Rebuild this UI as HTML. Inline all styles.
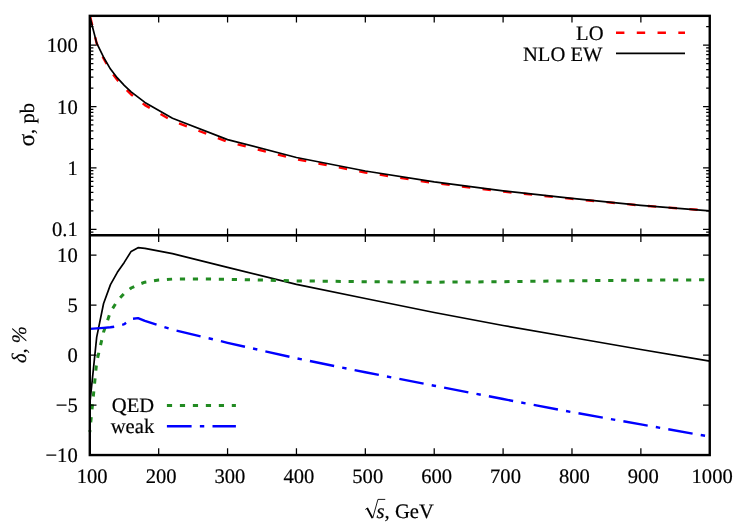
<!DOCTYPE html>
<html><head><meta charset="utf-8"><title>plot</title>
<style>html,body{margin:0;padding:0;background:#fff;}svg{display:block;}text{font-family:"Liberation Serif",serif;font-size:20.6px;fill:#000;stroke:#000;stroke-width:0.2px;text-rendering:geometricPrecision;}</style>
</head><body>
<svg width="747" height="523" viewBox="0 0 747 523">
<rect width="747" height="523" fill="#fff"/>
<defs><clipPath id="c1"><rect x="88.80" y="15.85" width="621.95" height="219.35"/></clipPath>
<clipPath id="c2"><rect x="88.20" y="235.20" width="623.15" height="219.85"/></clipPath></defs>
<g clip-path="url(#c1)" fill="none" stroke-linejoin="round">
<path d="M89.80,15.17 L96.69,43.58 L103.58,58.54 L110.47,70.92 L117.35,80.02 L124.24,87.66 L131.13,94.43 L138.02,99.82 L144.91,105.11 L172.46,120.88 L227.57,141.84 L296.45,159.32 L365.33,172.47 L434.22,183.01 L503.10,191.58 L571.98,198.87 L640.87,205.45 L709.75,210.74" stroke="#ff0000" stroke-width="2.4" stroke-dasharray="8.4 12.37" stroke-dashoffset="18.75"/>
<path d="M89.80,16.50 L96.69,43.10 L103.58,57.20 L110.47,69.10 L117.35,77.90 L124.24,85.30 L131.13,91.80 L138.02,97.10 L144.91,102.40 L172.46,118.30 L227.57,139.60 L296.45,157.50 L365.33,171.00 L434.22,181.90 L503.10,190.80 L571.98,198.40 L640.87,205.30 L709.75,210.90" stroke="#000" stroke-width="1.7"/>
</g>
<g clip-path="url(#c2)" fill="none" stroke-linejoin="round">
<path d="M89.80,403.90 L96.69,337.10 L103.58,303.50 L110.47,284.60 L117.35,272.30 L124.24,262.40 L131.13,251.40 L138.02,247.70 L144.91,248.30 L172.46,253.60 L227.57,267.40 L296.45,284.40 L365.33,298.50 L434.22,312.50 L503.10,325.50 L571.98,337.50 L640.87,349.50 L709.75,361.20" stroke="#000" stroke-width="1.7"/>
<path d="M89.80,432.00 L96.69,362.00 L103.58,332.00 L110.47,311.90 L117.35,300.90 L124.24,293.40 L131.13,288.00 L138.02,284.80 L144.91,282.20 L158.68,280.00 L172.46,279.10 L200.01,279.00 L227.57,279.30 L296.45,280.90 L365.33,281.70 L434.22,282.20 L503.10,281.70 L571.98,280.80 L640.87,280.20 L709.75,279.80" stroke="#228b22" stroke-width="3.0" stroke-dasharray="5.2 7.78" stroke-dashoffset="3.26"/>
<path d="M89.80,328.90 L96.69,328.40 L103.58,327.90 L110.47,327.30 L117.35,326.20 L124.24,324.20 L131.13,319.00 L138.02,318.10 L144.91,320.90 L172.46,329.60 L227.57,342.80 L296.45,358.30 L365.33,372.30 L434.22,385.70 L503.10,399.05 L571.98,412.15 L640.87,424.40 L709.75,436.60" stroke="#0000ff" stroke-width="2.4" stroke-dasharray="24.7 8.25 4.4 8.25" stroke-dashoffset="0.2"/>
</g>
<g stroke="#000" stroke-width="1.25" fill="none">
<path d="M158.68,15.85 v6.70 M158.68,228.50 v13.40 M158.68,455.05 v-6.70"/>
<path d="M227.57,15.85 v6.70 M227.57,228.50 v13.40 M227.57,455.05 v-6.70"/>
<path d="M296.45,15.85 v6.70 M296.45,228.50 v13.40 M296.45,455.05 v-6.70"/>
<path d="M365.33,15.85 v6.70 M365.33,228.50 v13.40 M365.33,455.05 v-6.70"/>
<path d="M434.22,15.85 v6.70 M434.22,228.50 v13.40 M434.22,455.05 v-6.70"/>
<path d="M503.10,15.85 v6.70 M503.10,228.50 v13.40 M503.10,455.05 v-6.70"/>
<path d="M571.98,15.85 v6.70 M571.98,228.50 v13.40 M571.98,455.05 v-6.70"/>
<path d="M640.87,15.85 v6.70 M640.87,228.50 v13.40 M640.87,455.05 v-6.70"/>
<path d="M89.80,232.06 h3.60 M709.75,232.06 h-3.60"/>
<path d="M89.80,229.25 h6.70 M709.75,229.25 h-6.70"/>
<path d="M89.80,210.78 h3.60 M709.75,210.78 h-3.60"/>
<path d="M89.80,199.97 h3.60 M709.75,199.97 h-3.60"/>
<path d="M89.80,192.30 h3.60 M709.75,192.30 h-3.60"/>
<path d="M89.80,186.35 h3.60 M709.75,186.35 h-3.60"/>
<path d="M89.80,181.49 h3.60 M709.75,181.49 h-3.60"/>
<path d="M89.80,177.39 h3.60 M709.75,177.39 h-3.60"/>
<path d="M89.80,173.83 h3.60 M709.75,173.83 h-3.60"/>
<path d="M89.80,170.69 h3.60 M709.75,170.69 h-3.60"/>
<path d="M89.80,167.88 h6.70 M709.75,167.88 h-6.70"/>
<path d="M89.80,149.40 h3.60 M709.75,149.40 h-3.60"/>
<path d="M89.80,138.60 h3.60 M709.75,138.60 h-3.60"/>
<path d="M89.80,130.93 h3.60 M709.75,130.93 h-3.60"/>
<path d="M89.80,124.98 h3.60 M709.75,124.98 h-3.60"/>
<path d="M89.80,120.12 h3.60 M709.75,120.12 h-3.60"/>
<path d="M89.80,116.01 h3.60 M709.75,116.01 h-3.60"/>
<path d="M89.80,112.45 h3.60 M709.75,112.45 h-3.60"/>
<path d="M89.80,109.31 h3.60 M709.75,109.31 h-3.60"/>
<path d="M89.80,106.51 h6.70 M709.75,106.51 h-6.70"/>
<path d="M89.80,88.03 h3.60 M709.75,88.03 h-3.60"/>
<path d="M89.80,77.22 h3.60 M709.75,77.22 h-3.60"/>
<path d="M89.80,69.56 h3.60 M709.75,69.56 h-3.60"/>
<path d="M89.80,63.61 h3.60 M709.75,63.61 h-3.60"/>
<path d="M89.80,58.75 h3.60 M709.75,58.75 h-3.60"/>
<path d="M89.80,54.64 h3.60 M709.75,54.64 h-3.60"/>
<path d="M89.80,51.08 h3.60 M709.75,51.08 h-3.60"/>
<path d="M89.80,47.94 h3.60 M709.75,47.94 h-3.60"/>
<path d="M89.80,45.13 h6.70 M709.75,45.13 h-6.70"/>
<path d="M89.80,26.66 h3.60 M709.75,26.66 h-3.60"/>
<path d="M89.80,405.08 h6.70 M709.75,405.08 h-6.70"/>
<path d="M89.80,355.12 h6.70 M709.75,355.12 h-6.70"/>
<path d="M89.80,305.15 h6.70 M709.75,305.15 h-6.70"/>
<path d="M89.80,255.19 h6.70 M709.75,255.19 h-6.70"/>
</g>
<g stroke="#000" stroke-width="2.4" fill="none" stroke-linejoin="miter">
<rect x="89.80" y="15.85" width="619.95" height="439.20"/>
<path d="M89.80,235.20 H709.75"/>
</g>
<g style="filter:grayscale(1)">
<text x="77.70" y="52.13" text-anchor="end">100</text>
<text x="77.70" y="113.51" text-anchor="end">10</text>
<text x="77.70" y="174.88" text-anchor="end">1</text>
<text x="77.70" y="236.25" text-anchor="end">0.1</text>
<text x="77.70" y="262.19" text-anchor="end">10</text>
<text x="77.70" y="312.15" text-anchor="end">5</text>
<text x="77.70" y="362.12" text-anchor="end">0</text>
<text x="77.70" y="412.08" text-anchor="end">−5</text>
<text x="77.70" y="462.05" text-anchor="end">−10</text>
<text x="92.20" y="482.6" text-anchor="middle">100</text>
<text x="161.08" y="482.6" text-anchor="middle">200</text>
<text x="229.97" y="482.6" text-anchor="middle">300</text>
<text x="298.85" y="482.6" text-anchor="middle">400</text>
<text x="367.73" y="482.6" text-anchor="middle">500</text>
<text x="436.62" y="482.6" text-anchor="middle">600</text>
<text x="505.50" y="482.6" text-anchor="middle">700</text>
<text x="574.38" y="482.6" text-anchor="middle">800</text>
<text x="643.27" y="482.6" text-anchor="middle">900</text>
<text x="712.15" y="482.6" text-anchor="middle">1000</text>
<text transform="translate(34.1,124.8) rotate(-90)" text-anchor="middle"><tspan font-size="23.5">σ</tspan>, pb</text>
<text transform="translate(25.8,344.6) rotate(-90)" text-anchor="middle" font-style="italic" style="stroke-width:0.15px">δ, %</text>
<g id="xl">
<path d="M365.3,509.5 l2.0,-1.3 M372.7,518.2 l5.25,-18.8 h7.3" stroke="#000" stroke-width="0.9" fill="none"/>
<path d="M367.1,508.0 l5.3,10.0" stroke="#000" stroke-width="1.8" fill="none"/>
<text x="376.6" y="517.6"><tspan font-style="italic">s</tspan>, GeV</text>
</g>
<text x="603.5" y="39.8" text-anchor="end">LO</text>
<text x="602.5" y="60.5" text-anchor="end">NLO EW</text>
<text x="154.2" y="412.1" text-anchor="end">QED</text>
<text x="154.2" y="432.8" text-anchor="end">weak</text>
</g>
<path d="M616,32.7 H685" stroke="#ff0000" stroke-width="2.4" stroke-dasharray="8.4 12.37" fill="none"/>
<path d="M616,53.4 H685" stroke="#000" stroke-width="1.7" fill="none"/>
<path d="M166.9,405.5 H235.9" stroke="#228b22" stroke-width="3.0" stroke-dasharray="5.2 7.78" fill="none"/>
<path d="M166.9,426.2 H235.9" stroke="#0000ff" stroke-width="2.4" stroke-dasharray="24.7 8.25 4.4 8.25" fill="none"/>
</svg></body></html>
